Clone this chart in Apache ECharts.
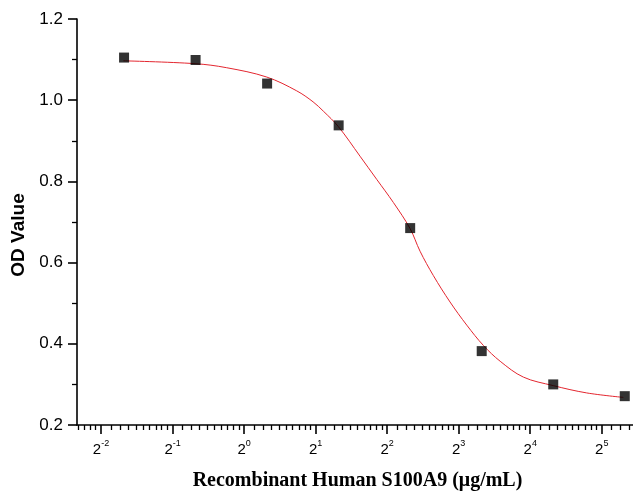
<!DOCTYPE html>
<html>
<head>
<meta charset="utf-8">
<script src="https://cdn.jsdelivr.net/npm/echarts@6/dist/echarts.min.js"></script>
<style>
  html, body { margin: 0; padding: 0; background: #fff; }
  #chart { width: 633px; height: 496px; }
</style>
</head>
<body>
<div id="chart"></div>
<script>
// measured points (concentration in µg/mL, OD)
const concentrations = [0.3125, 0.625, 1.25, 2.5, 5, 10, 20, 40];
const odValues = [1.105, 1.099, 1.041, 0.938, 0.685, 0.382, 0.300, 0.271];

// fitted curve (x given as log2 of concentration)
const fitLog2X = [-1.688, -0.686, -0.243, 0.317, 0.736, 0.964, 1.108, 1.318, 1.621, 1.854, 2.087,
  2.320, 2.460, 2.646, 2.879, 3.113, 3.345, 3.580, 3.904, 4.323, 4.790, 5.302];
const fitOD = [1.097, 1.090, 1.080, 1.057, 1.023, 0.996, 0.973, 0.935, 0.862, 0.805, 0.748,
  0.684, 0.628, 0.568, 0.503, 0.446, 0.396, 0.357, 0.318, 0.297, 0.279, 0.268];

// axis ticks: powers of two
const tickExponents = [-2, -1, 0, 1, 2, 3, 4, 5];

const xMin = -2.336;
const xMax = 5.437;

// minor ticks at 2^n * (1 + k/10)
const minorTicks = [];
for (let n = -3; n <= 5; n++) {
  for (let k = 1; k <= 9; k++) {
    const v = n + Math.log2(1 + k / 10);
    if (v > xMin && v < xMax) minorTicks.push(v);
  }
}

const chart = echarts.init(document.getElementById("chart"));
chart.setOption({
  animation: false,
  grid: { left: 77, right: 0, top: 19, bottom: 69 },
  xAxis: [
    {
      type: "value",
      position: "bottom",
      min: xMin,
      max: xMax,
      splitLine: { show: false },
      axisLine: { show: true, onZero: false, lineStyle: { color: "#000", width: 1.6 } },
      axisTick: { show: true, inside: false, length: 9, customValues: tickExponents, lineStyle: { color: "#000", width: 1.6 } },
      axisLabel: {
        customValues: tickExponents,
        margin: 14,
        formatter: (v) => "{b|2}{s|" + Math.round(v) + "}",
        rich: {
          b: { fontFamily: "Liberation Sans, Arial", fontSize: 15, color: "#000", verticalAlign: "bottom" },
          s: { fontFamily: "Liberation Sans, Arial", fontSize: 9, color: "#000", verticalAlign: "top", padding: [0, 0, 9, 0] },
        },
      },
      name: "Recombinant Human S100A9 (μg/mL)",
      nameLocation: "middle",
      nameGap: 46,
      nameTextStyle: { fontFamily: "Liberation Serif, Times New Roman", fontWeight: "bold", fontSize: 20, color: "#000", padding: [0, 0, 0, 5] },
    },
    {
      type: "value",
      position: "bottom",
      min: xMin,
      max: xMax,
      splitLine: { show: false },
      axisLine: { show: false, onZero: false },
      axisTick: { show: true, inside: false, length: 5, customValues: minorTicks, lineStyle: { color: "#000", width: 1.3 } },
      axisLabel: { show: false },
    },
  ],
  yAxis: {
    type: "value",
    min: 0.2,
    max: 1.2,
    interval: 0.2,
    splitLine: { show: false },
    axisLine: { show: true, onZero: false, lineStyle: { color: "#000", width: 1.6 } },
    axisTick: { show: true, inside: false, length: 9, lineStyle: { color: "#000", width: 1.6 } },
    minorTick: { show: true, splitNumber: 2, length: 5, lineStyle: { color: "#000", width: 1.3 } },
    axisLabel: {
      margin: 14,
      fontFamily: "Liberation Sans, Arial",
      fontSize: 17,
      color: "#000",
      formatter: (v) => v.toFixed(1),
    },
    name: "OD Value",
    nameLocation: "middle",
    nameGap: 49,
    nameTextStyle: { fontFamily: "Liberation Sans, Arial", fontWeight: "bold", fontSize: 19, color: "#000", padding: [0, 26, 0, 0] },
  },
  series: [
    {
      name: "fit",
      type: "line",
      xAxisIndex: 0,
      smooth: 0.35,
      showSymbol: false,
      symbol: "none",
      lineStyle: { color: "#e3262f", width: 1 },
      data: fitLog2X.map((x, i) => [x, fitOD[i]]),
      z: 2,
    },
    {
      name: "OD",
      type: "scatter",
      xAxisIndex: 0,
      symbol: "rect",
      symbolSize: 10,
      itemStyle: { color: "#000" },
      data: concentrations.map((c, i) => [Math.log2(c), odValues[i]]),
      z: 3,
    },
  ],
});
</script>
</body>
</html>
